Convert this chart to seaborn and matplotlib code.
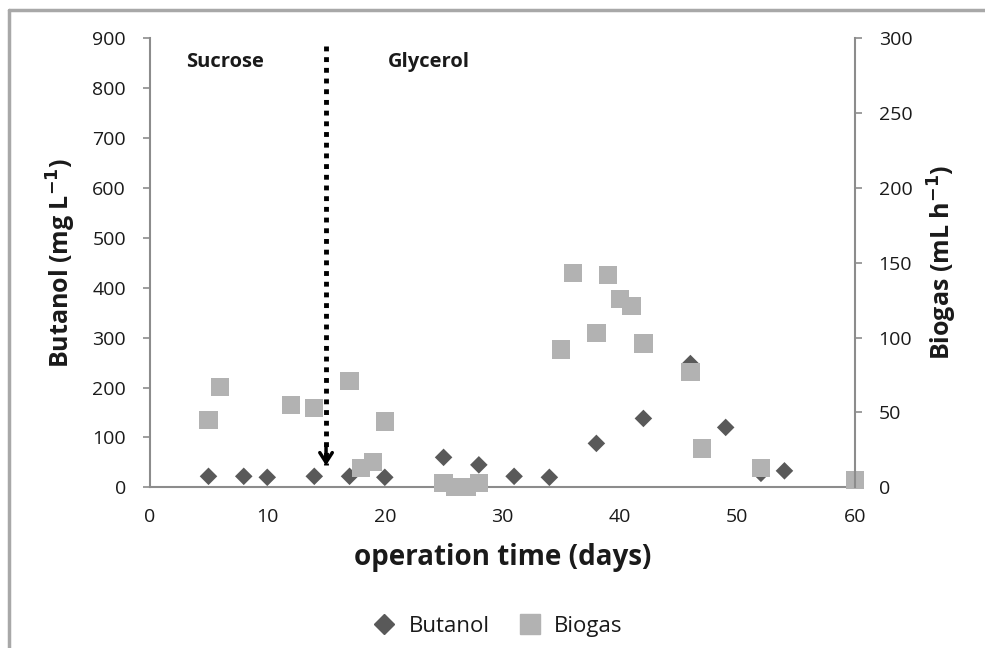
import matplotlib
matplotlib.use('Agg')
import matplotlib.pyplot as plt
import seaborn as sns
from matplotlib.lines import Line2D

# 数据
butanol_day = [5, 8, 10, 14, 17, 20, 25, 28, 31, 34, 38, 42, 46, 49, 52, 54]
butanol_mg = [22, 22, 20, 22, 22, 20, 60, 45, 22, 20, 88, 138, 248, 120, 28, 33]

biogas_day = [5, 6, 12, 14, 17, 18, 19, 20, 25, 26, 27, 28,
              35, 36, 38, 39, 40, 41, 42, 46, 47, 52, 60]
biogas_ml = [45, 67, 55, 53, 71, 13, 17, 44, 3, 0, 0, 3,
             92, 143, 103, 142, 126, 121, 96, 77, 26, 13, 5]

x_ticks = [0, 10, 20, 30, 40, 50, 60]
left_ticks = [0, 100, 200, 300, 400, 500, 600, 700, 800, 900]
right_ticks = [0, 50, 100, 150, 200, 250, 300]

sns.set_style('white')
plt.rcParams['font.family'] = ['Open Sans', 'DejaVu Sans']

axis_grey = '#8c8c8c'
dark = '#595959'
light = '#b2b2b2'
text_c = '#1a1a1a'

fig, ax = plt.subplots(figsize=(9.85, 6.48), dpi=100)
fig.subplots_adjust(left=0.152, right=0.868, top=0.941, bottom=0.248)

# 左轴：丁醇
sns.scatterplot(x=butanol_day, y=butanol_mg, ax=ax, marker='D', s=80,
                color=dark, edgecolor='none', legend=False, clip_on=False)
ax.set_xlim(0, 60)
ax.set_ylim(0, 900)
ax.set_xticks(x_ticks)
ax.set_yticks(left_ticks)

# 右轴：沼气
ax2 = ax.twinx()
sns.scatterplot(x=biogas_day, y=biogas_ml, ax=ax2, marker='s', s=175,
                color=light, edgecolor='none', legend=False, clip_on=False)
ax2.set_ylim(0, 300)
ax2.set_yticks(right_ticks)

for a in (ax, ax2):
    for side in a.spines:
        a.spines[side].set_color(axis_grey)
        a.spines[side].set_linewidth(1.5)
    a.spines['top'].set_visible(False)
ax.spines['right'].set_visible(False)
ax2.spines['left'].set_visible(False)
ax2.spines['bottom'].set_visible(False)

ax.tick_params(axis='x', direction='inout', length=10, width=1.2,
               color=axis_grey, labelsize=14, labelcolor=text_c, pad=10)
ax.tick_params(axis='y', direction='out', length=5, width=1.2,
               color=axis_grey, labelsize=14, labelcolor=text_c, left=True, pad=12)
ax2.tick_params(axis='y', direction='out', length=5, width=1.2,
                color=axis_grey, labelsize=14, labelcolor=text_c, right=True, pad=12)

ax.set_xlabel('operation time (days)', fontsize=20, fontweight='bold',
              labelpad=12, color=text_c)
ax.set_ylabel('Butanol (mg L$^{\\mathbf{-1}}$)', fontsize=18, fontweight='bold',
              labelpad=10, color=text_c)
ax2.set_ylabel('Biogas (mL h$^{\\mathbf{-1}}$)', fontsize=18, fontweight='bold',
               labelpad=10, color=text_c)

# 换底物的箭头
ax.plot([15, 15], [885, 45], linestyle=(0, (1, 1.2)), color='black', lw=3.5)
ax.annotate('', xy=(15, 38), xytext=(15, 90),
            arrowprops=dict(arrowstyle='->,head_length=0.7,head_width=0.45',
                            color='black', lw=2.5))
ax.text(3.1, 852, 'Sucrose', fontsize=14.5, fontweight='bold', va='center', color=text_c)
ax.text(20.3, 852, 'Glycerol', fontsize=14.5, fontweight='bold', va='center', color=text_c)

# 图例
handles = [Line2D([], [], marker='D', color=dark, linestyle='none', markersize=10),
           Line2D([], [], marker='s', color=light, linestyle='none', markersize=15)]
fig.legend(handles, ['Butanol', 'Biogas'], loc='center', bbox_to_anchor=(0.5, 0.033),
           ncol=2, frameon=False, fontsize=16, handletextpad=0.1, columnspacing=0.8,
           labelcolor=text_c)

# 外框
fig.add_artist(Line2D([0.009, 0.009], [0, 0.985], color='#a8a8a8', lw=2.5,
                      transform=fig.transFigure))
fig.add_artist(Line2D([0.009, 1], [0.985, 0.985], color='#a8a8a8', lw=2.5,
                      transform=fig.transFigure))

plt.savefig('out.png', dpi=100)
